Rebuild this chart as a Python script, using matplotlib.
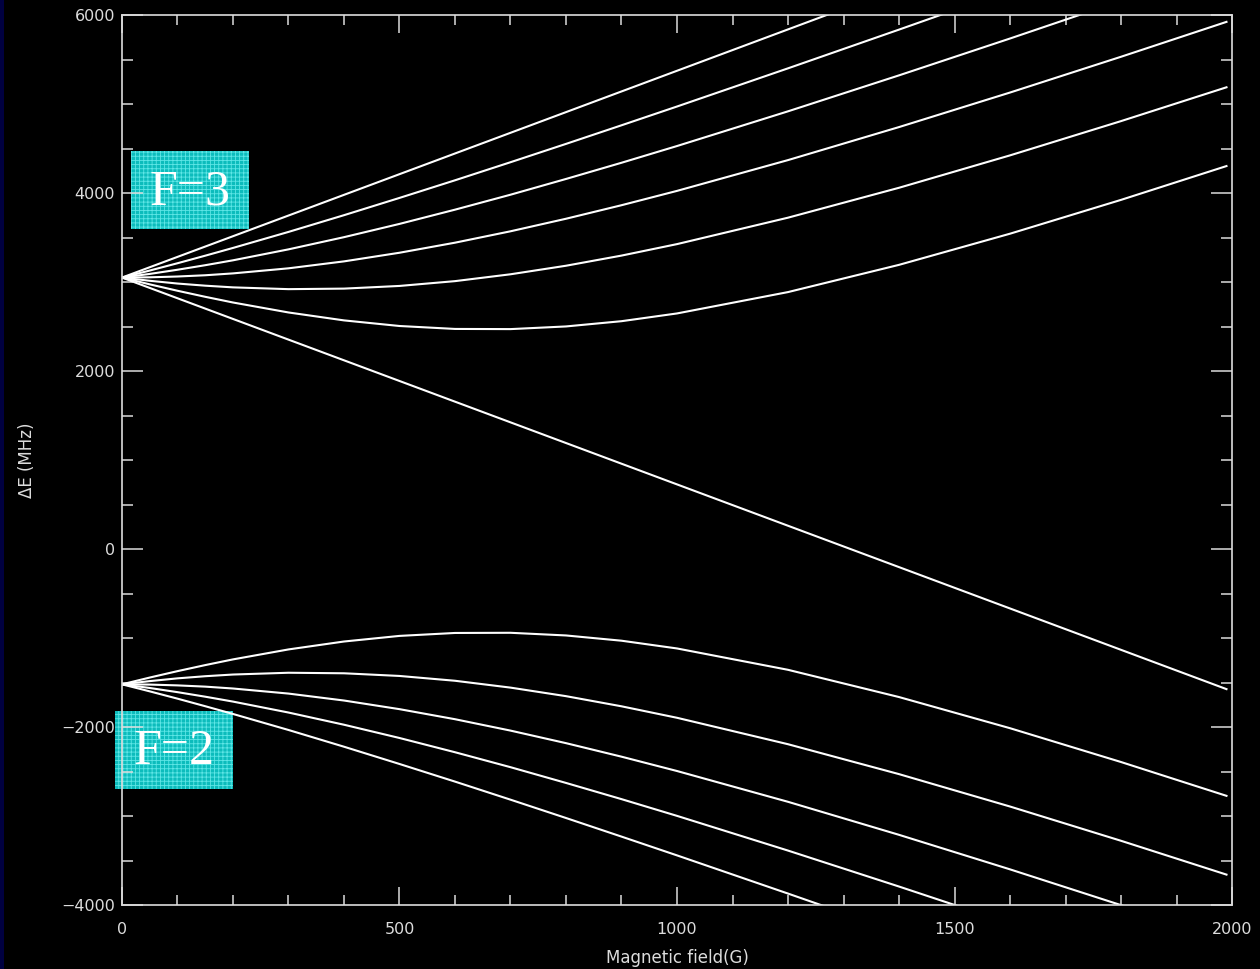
import matplotlib
matplotlib.use("Agg")
import matplotlib.pyplot as plt
from matplotlib.patches import Rectangle
from matplotlib.ticker import MultipleLocator

# Champ magnetique (G) ou les courbes ont ete lues
field = [0, 50, 100, 150, 200, 300, 400, 500, 600, 700, 800, 900, 1000,
         1200, 1400, 1600, 1800, 1990]

# Niveaux F=3 (MHz)
f3_m2 = [3050, 3129, 3211, 3296, 3383, 3563, 3751, 3945, 4143, 4346, 4552,
         4761, 4972, 5401, 5836, 6276, 6720, 7144]
f3_m1 = [3050, 3091, 3138, 3189, 3244, 3367, 3504, 3653, 3813, 3981, 4158,
         4340, 4528, 4918, 5322, 5736, 6159, 6566]
f3_m0 = [3050, 3053, 3062, 3076, 3097, 3154, 3232, 3329, 3442, 3570, 3711,
         3863, 4024, 4370, 4741, 5129, 5531, 5923]
f3_mm1 = [3050, 3014, 2983, 2959, 2940, 2920, 2926, 2956, 3010, 3087, 3183,
          3297, 3426, 3723, 4059, 4423, 4808, 5188]
f3_mm2 = [3050, 2974, 2902, 2834, 2770, 2658, 2569, 2506, 2473, 2471, 2501,
          2560, 2647, 2887, 3193, 3543, 3923, 4303]

# Niveaux etires (droites)
stretch_field = [0, 1990]
f3_m3 = [3050, 7674]
f3_mm3 = [3050, -1574]

# Niveaux F=2 (MHz)
f2_mm2 = [-1520, -1444, -1372, -1304, -1240, -1128, -1039, -976, -943, -941,
          -971, -1030, -1117, -1357, -1663, -2013, -2393, -2773]
f2_mm1 = [-1520, -1484, -1453, -1429, -1410, -1390, -1396, -1426, -1480,
          -1557, -1653, -1767, -1896, -2193, -2529, -2893, -3278, -3658]
f2_m0 = [-1520, -1523, -1532, -1546, -1567, -1624, -1702, -1799, -1912,
         -2040, -2181, -2333, -2494, -2840, -3211, -3599, -4001, -4393]
f2_m1 = [-1520, -1561, -1608, -1659, -1714, -1837, -1974, -2123, -2283,
         -2451, -2628, -2810, -2998, -3388, -3792, -4206, -4628, -5036]
f2_m2 = [-1520, -1599, -1681, -1766, -1853, -2033, -2221, -2415, -2613,
         -2816, -3022, -3231, -3442, -3871, -4306, -4746, -5190, -5614]

fg = "#dcdcdc"

fig = plt.figure(figsize=(12.6, 9.69), dpi=100, facecolor="black")
# bande bleu nuit a gauche
fig.patches.append(Rectangle((0, 0), 0.003, 1, transform=fig.transFigure,
                             facecolor="#000040", edgecolor="none"))
ax = fig.add_axes([0.0968, 0.066, 0.881, 0.9185])
ax.set_facecolor("none")

for level in [f3_m2, f3_m1, f3_m0, f3_mm1, f3_mm2,
              f2_mm2, f2_mm1, f2_m0, f2_m1, f2_m2]:
    ax.plot(field, level, color="white", lw=1.5)
ax.plot(stretch_field, f3_m3, color="white", lw=1.5)
ax.plot(stretch_field, f3_mm3, color="white", lw=1.5)

ax.set_xlim(0, 2000)
ax.set_ylim(-4000, 6000)
ax.xaxis.set_major_locator(MultipleLocator(500))
ax.xaxis.set_minor_locator(MultipleLocator(100))
ax.yaxis.set_major_locator(MultipleLocator(2000))
ax.yaxis.set_minor_locator(MultipleLocator(500))

for s in ax.spines.values():
    s.set_color(fg)
    s.set_linewidth(1.2)
ax.tick_params(axis="both", which="both", direction="in", colors=fg,
               top=True, right=True, width=1.1, labelsize=11.5)
ax.tick_params(axis="x", which="major", length=13, pad=12)
ax.tick_params(axis="x", which="minor", length=7)
ax.tick_params(axis="y", which="major", length=15, pad=5)
ax.tick_params(axis="y", which="minor", length=8)

ax.set_xlabel("Magnetic field(G)", color=fg, fontsize=12, labelpad=9)
ax.set_ylabel("ΔE (MHz)", color=fg, fontsize=12, labelpad=18)

# etiquettes F=3 / F=2 (derriere les axes)
plt.rcParams["hatch.linewidth"] = 0.6
for (x0, y0, txt) in [(131, 151, "F=3"), (115, 711, "F=2")]:
    box = Rectangle((x0 / 1260, 1 - (y0 + 78) / 969), 118 / 1260, 78 / 969,
                    transform=fig.transFigure, facecolor="#0cbcbc",
                    edgecolor="#5ee6e6", hatch="++++", lw=0, zorder=-1)
    fig.patches.append(box)
    fig.text((x0 + 59) / 1260, 1 - (y0 + 41) / 969, txt, color="white",
             fontsize=36, family="Liberation Serif", ha="center",
             va="center", zorder=4)

fig.savefig("out.png", dpi=100, facecolor="black")
